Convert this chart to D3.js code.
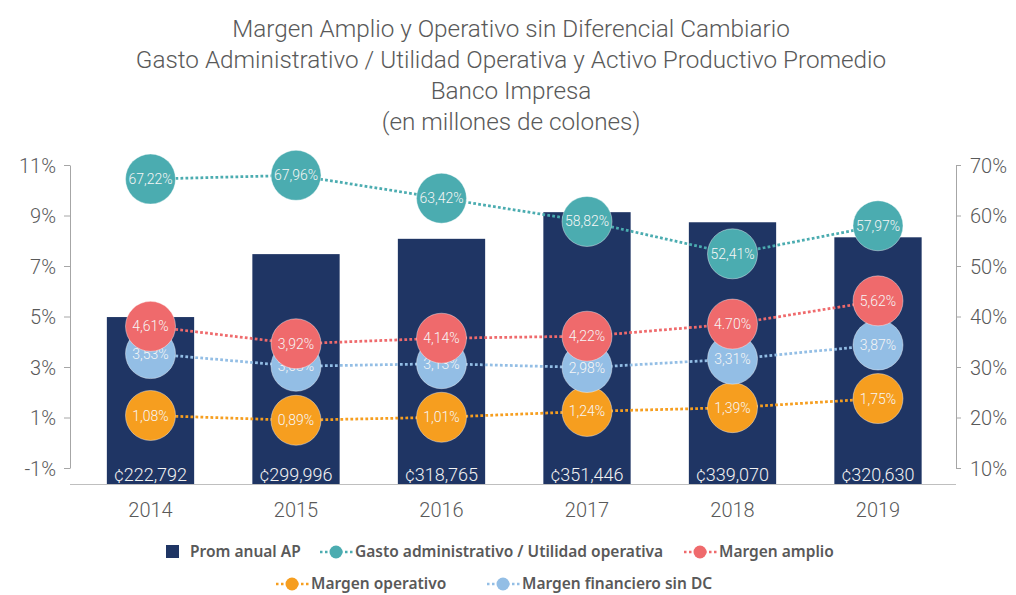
<!DOCTYPE html>
<html>
<head>
<meta charset="utf-8">
<script src="https://cdn.jsdelivr.net/npm/d3@7"></script>
<style>
  body { margin: 0; background: #fff; }
  text { font-family: Roboto, "Open Sans", sans-serif; }
  .title { font-size: 24.3px; font-weight: 300; fill: #595959; }
  .tick text { font-size: 20px; font-weight: 300; fill: #595959; }
  .xlab { font-size: 20px; font-weight: 300; fill: #595959; }
  .barlab { font-size: 18px; font-weight: 300; fill: #f2f2f2; }
  .dotlab { font-size: 14px; font-weight: 300; fill: #f6f6f6; }
  .legend text { font-family: "Noto Sans", sans-serif; font-size: 15.5px; font-weight: 600; fill: #595959; }
</style>
</head>
<body>
<div id="chart"></div>
<script>
var svgWidth = 1016;
var svgHeight = 595;

// data
var years = ["2014", "2015", "2016", "2017", "2018", "2019"];
var promAnual = [222792, 299996, 318765, 351446, 339070, 320630];
var gastoUtilidad = [67.22, 67.96, 63.42, 58.82, 52.41, 57.97];
var margenAmplio = [4.61, 3.92, 4.14, 4.22, 4.70, 5.62];
var margenAmplioLabels = ["4,61%", "3,92%", "4,14%", "4,22%", "4.70%", "5,62%"];
var margenOperativo = [1.08, 0.89, 1.01, 1.24, 1.39, 1.75];
var margenFinanciero = [3.53, 3.03, 3.13, 2.98, 3.31, 3.87];
var leftTicks = [-1, 1, 3, 5, 7, 9, 11];
var rightTicks = [10, 20, 30, 40, 50, 60, 70];
var titleLines = [
  "Margen Amplio y Operativo sin Diferencial Cambiario",
  "Gasto Administrativo / Utilidad Operativa y Activo Productivo Promedio",
  "Banco Impresa",
  "(en millones de colones)"
];

var navy = "#1f3564", teal = "#4bacb0", red = "#ef6a6c", lightBlue = "#93bee5", orange = "#f69e1f";

var plot = { left: 70, right: 956, top: 165, axisBottom: 468, base: 484 };

var svg = d3.select("#chart")
  .append("svg")
  .attr("width", svgWidth)
  .attr("height", svgHeight);

// title
svg.append("g")
  .selectAll("text")
  .data(titleLines)
  .enter()
  .append("text")
  .attr("class", "title")
  .attr("x", 511)
  .attr("y", (d, i) => 37 + i * 31)
  .attr("text-anchor", "middle")
  .text(d => d);

// scales
var x = d3.scaleBand()
  .domain(years)
  .range([77.75, 950.75])
  .paddingInner(0.4)
  .paddingOuter(0.2);

var yLeft = d3.scaleLinear().domain([-1, 11]).range([plot.axisBottom, plot.top]);
var yRight = d3.scaleLinear().domain([10, 70]).range([plot.axisBottom, plot.top]);
var yBar = d3.scaleLinear().domain([18000, 400000]).range([plot.base, 172.6]);

// axes
svg.append("g")
  .attr("transform", `translate(${plot.left},0)`)
  .call(d3.axisLeft(yLeft).tickValues(leftTicks).tickSize(6).tickSizeOuter(0).tickPadding(8).tickFormat(d => d + "%"));

svg.append("g")
  .attr("transform", `translate(${plot.right},0)`)
  .call(d3.axisRight(yRight).tickValues(rightTicks).tickSize(5).tickSizeOuter(0).tickPadding(9).tickFormat(d => d + "%"));

svg.selectAll(".domain, .tick line").attr("stroke", "#a6a6a6").attr("stroke-width", 1);
svg.selectAll(".tick text").attr("dy", "0.35em");

// bars
svg.append("g")
  .selectAll("rect")
  .data(promAnual)
  .enter()
  .append("rect")
  .attr("x", (d, i) => x(years[i]))
  .attr("y", d => yBar(d))
  .attr("width", x.bandwidth())
  .attr("height", d => plot.base - yBar(d))
  .attr("fill", navy);

svg.append("g")
  .selectAll("text")
  .data(promAnual)
  .enter()
  .append("text")
  .attr("class", "barlab")
  .attr("x", (d, i) => x(years[i]) + x.bandwidth() / 2)
  .attr("y", plot.base - 3)
  .attr("text-anchor", "middle")
  .text(d => "¢" + d3.format(",")(d));

// x axis line + labels
svg.append("line")
  .attr("x1", plot.left).attr("x2", plot.right)
  .attr("y1", plot.base + 0.5).attr("y2", plot.base + 0.5)
  .attr("stroke", "#bfbfbf").attr("stroke-width", 1.2);

svg.append("g")
  .selectAll("text")
  .data(years)
  .enter()
  .append("text")
  .attr("class", "xlab")
  .attr("x", d => x(d) + x.bandwidth() / 2)
  .attr("y", 517)
  .attr("text-anchor", "middle")
  .text(d => d);

// line series (drawn bottom to top)
var fmt = v => d3.format(".2f")(v).replace(".", ",") + "%";
var series = [
  { values: margenOperativo, scale: yLeft, color: orange, labels: margenOperativo.map(fmt) },
  { values: margenFinanciero, scale: yLeft, color: lightBlue, labels: margenFinanciero.map(fmt) },
  { values: margenAmplio, scale: yLeft, color: red, labels: margenAmplioLabels },
  { values: gastoUtilidad, scale: yRight, color: teal, labels: gastoUtilidad.map(fmt) }
];

var cx = i => x(years[i]) + x.bandwidth() / 2;

series.forEach(function(s) {
  var line = d3.line()
    .x((d, i) => cx(i))
    .y(d => s.scale(d));
  svg.append("path")
    .datum(s.values)
    .attr("d", line)
    .attr("fill", "none")
    .attr("stroke", s.color)
    .attr("stroke-width", 2.75)
    .attr("stroke-dasharray", "2.75,2.25");
});

series.forEach(function(s) {
  var g = svg.append("g");
  g.selectAll("circle")
    .data(s.values)
    .enter()
    .append("circle")
    .attr("cx", (d, i) => cx(i))
    .attr("cy", d => s.scale(d))
    .attr("r", 25)
    .attr("fill", s.color)
    .attr("stroke", "#ffffff")
    .attr("stroke-opacity", 0.5)
    .attr("stroke-width", 0.8);
  g.selectAll("text")
    .data(s.values)
    .enter()
    .append("text")
    .attr("class", "dotlab")
    .attr("x", (d, i) => cx(i))
    .attr("y", d => s.scale(d))
    .attr("dy", "0.36em")
    .attr("text-anchor", "middle")
    .text((d, i) => s.labels[i]);
});

// legend
var legendItems = [
  { name: "Prom anual AP", type: "bar", color: navy, x: 166, y: 552 },
  { name: "Gasto administrativo / Utilidad operativa", type: "line", color: teal, x: 320, y: 552 },
  { name: "Margen amplio", type: "line", color: red, x: 684, y: 552 },
  { name: "Margen operativo", type: "line", color: orange, x: 276, y: 584 },
  { name: "Margen financiero sin DC", type: "line", color: lightBlue, x: 487, y: 584 }
];

var legend = svg.append("g").attr("class", "legend");
legendItems.forEach(function(item) {
  var g = legend.append("g").attr("transform", `translate(${item.x},${item.y})`);
  if (item.type === "bar") {
    g.append("rect").attr("x", 0).attr("y", -7).attr("width", 13).attr("height", 13).attr("fill", item.color);
    g.append("text").attr("x", 24).attr("dy", "0.35em").text(item.name);
  } else {
    g.append("line")
      .attr("x1", 0).attr("x2", 33)
      .attr("stroke", item.color)
      .attr("stroke-width", 2.5)
      .attr("stroke-dasharray", "2.5,2.5");
    g.append("circle").attr("cx", 16).attr("r", 6.5).attr("fill", item.color);
    g.append("text").attr("x", 35).attr("dy", "0.35em").text(item.name);
  }
});
</script>
</body>
</html>
